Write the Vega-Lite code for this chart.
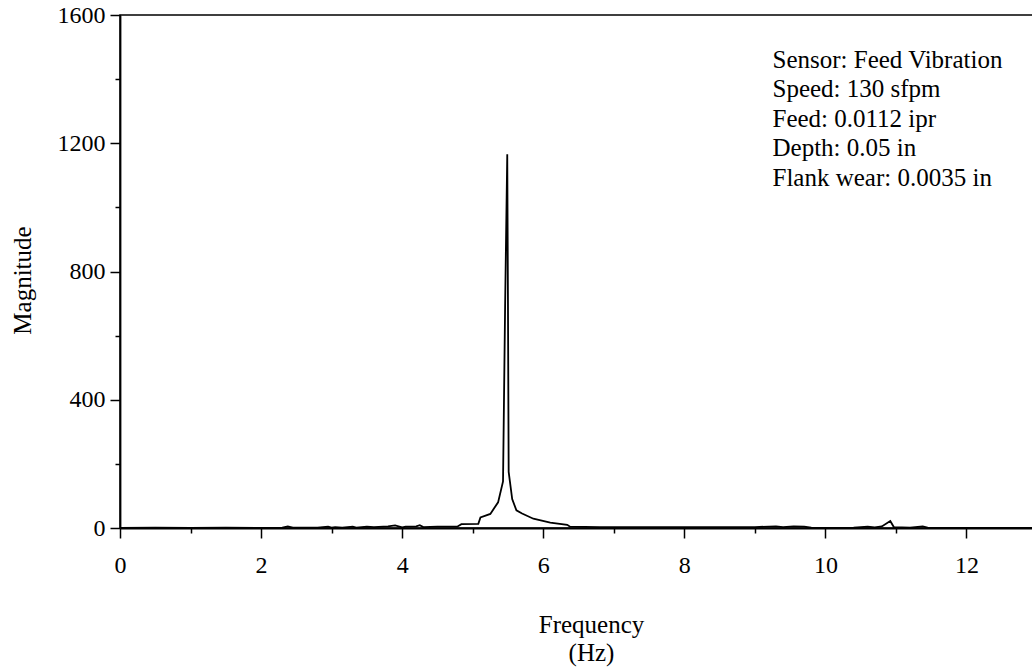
{
  "$schema": "https://vega.github.io/schema/vega-lite/v6.json",
  "autosize": "none",
  "padding": {"left": 120, "top": 15, "right": 0, "bottom": 140},
  "width": 917,
  "height": 513,
  "background": "white",
  "config": {
    "view": {"stroke": "black", "strokeWidth": 1.5},
    "font": "Liberation Serif",
    "axis": {
      "labelFont": "Liberation Serif",
      "titleFont": "Liberation Serif",
      "labelColor": "black",
      "titleColor": "black",
      "domainColor": "black",
      "tickColor": "black",
      "labelFontSize": 24,
      "titleFontSize": 25,
      "titleFontWeight": "normal",
      "grid": false,
      "domainWidth": 1.8,
      "tickWidth": 1.5,
      "labelFlush": false,
      "labelOverlap": false
    }
  },
  "datasets": {
    "spectrum": [
      {"f": 0, "m": 0}, {"f": 0.5, "m": 1}, {"f": 1.0, "m": 0}, {"f": 1.5, "m": 1},
      {"f": 2.0, "m": 0}, {"f": 2.3, "m": 1}, {"f": 2.38, "m": 5}, {"f": 2.45, "m": 1},
      {"f": 2.8, "m": 1}, {"f": 2.95, "m": 4}, {"f": 3.0, "m": 1}, {"f": 3.05, "m": 3},
      {"f": 3.15, "m": 1}, {"f": 3.3, "m": 4}, {"f": 3.35, "m": 1}, {"f": 3.5, "m": 4},
      {"f": 3.6, "m": 3}, {"f": 3.8, "m": 5}, {"f": 3.9, "m": 8}, {"f": 4.0, "m": 2},
      {"f": 4.05, "m": 4}, {"f": 4.2, "m": 5}, {"f": 4.25, "m": 9}, {"f": 4.3, "m": 3},
      {"f": 4.5, "m": 4}, {"f": 4.78, "m": 4}, {"f": 4.84, "m": 12}, {"f": 5.08, "m": 13},
      {"f": 5.11, "m": 33}, {"f": 5.25, "m": 44}, {"f": 5.36, "m": 80}, {"f": 5.43, "m": 145},
      {"f": 5.46, "m": 700}, {"f": 5.49, "m": 1166}, {"f": 5.50, "m": 700}, {"f": 5.51, "m": 175},
      {"f": 5.56, "m": 90}, {"f": 5.62, "m": 55}, {"f": 5.70, "m": 45}, {"f": 5.86, "m": 29},
      {"f": 6.10, "m": 17}, {"f": 6.34, "m": 10}, {"f": 6.38, "m": 4}, {"f": 6.8, "m": 3},
      {"f": 7.5, "m": 3}, {"f": 8.2, "m": 3}, {"f": 9.0, "m": 3}, {"f": 9.3, "m": 5},
      {"f": 9.4, "m": 3}, {"f": 9.55, "m": 5}, {"f": 9.7, "m": 4}, {"f": 9.8, "m": 1},
      {"f": 10.0, "m": 0}, {"f": 10.4, "m": 1}, {"f": 10.6, "m": 4}, {"f": 10.7, "m": 2},
      {"f": 10.8, "m": 5}, {"f": 10.92, "m": 22}, {"f": 10.97, "m": 3}, {"f": 11.2, "m": 1},
      {"f": 11.38, "m": 5}, {"f": 11.45, "m": 1}, {"f": 12.0, "m": 0}, {"f": 13.0, "m": 0}
    ],
    "notes": [
      {"x": 9.25, "y": 1460, "t": "Sensor: Feed Vibration"},
      {"x": 9.25, "y": 1368, "t": "Speed: 130 sfpm"},
      {"x": 9.25, "y": 1276, "t": "Feed: 0.0112 ipr"},
      {"x": 9.25, "y": 1184, "t": "Depth: 0.05 in"},
      {"x": 9.25, "y": 1092, "t": "Flank wear: 0.0035 in"}
    ]
  },
  "layer": [
    {
      "data": {"name": "spectrum"},
      "mark": {"type": "line", "color": "black", "strokeWidth": 1.8, "clip": true},
      "encoding": {
        "x": {
          "field": "f", "type": "quantitative",
          "scale": {"domain": [0, 13], "nice": false, "zero": false},
          "axis": {
            "title": ["Frequency", "(Hz)"],
            "values": [0,1,2,3,4,5,6,7,8,9,10,11,12,13],
            "format": "d",
            "labelExpr": "datum.value % 2 === 0 ? datum.label : ''",
            "tickSize": {"condition": {"test": "datum.value % 2 === 0", "value": 10}, "value": 5},
            "labelPadding": 15,
            "titleX": 471,
            "titleY": 84,
            "titleAlign": "center",
            "titleBaseline": "top",
            "titleLineHeight": 28
          }
        },
        "y": {
          "field": "m", "type": "quantitative",
          "scale": {"domain": [0, 1600], "nice": false},
          "axis": {
            "title": "Magnitude",
            "values": [0,200,400,600,800,1000,1200,1400,1600],
            "format": "d",
            "labelExpr": "datum.value % 400 === 0 ? datum.label : ''",
            "tickSize": {"condition": {"test": "datum.value % 400 === 0", "value": 10}, "value": 5},
            "labelPadding": 5,
            "titleX": -98,
            "titleY": 265,
            "titleAlign": "center",
            "titleBaseline": "middle",
            "titleAngle": -90
          }
        }
      }
    },
    {
      "data": {"name": "notes"},
      "mark": {"type": "text", "align": "left", "baseline": "middle", "fontSize": 25, "font": "Liberation Serif", "color": "black"},
      "encoding": {
        "x": {"field": "x", "type": "quantitative"},
        "y": {"field": "y", "type": "quantitative"},
        "text": {"field": "t"}
      }
    }
  ]
}
